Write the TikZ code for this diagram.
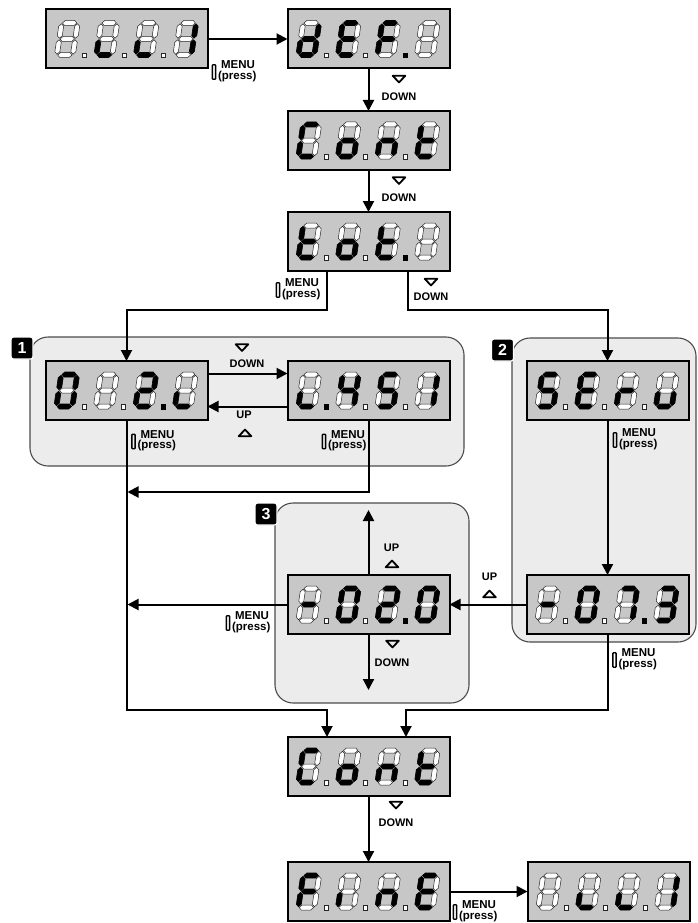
\documentclass[tikz,border=0pt]{standalone}
\usepackage{fontspec}
\setmainfont{Liberation Sans}
\usetikzlibrary{arrows.meta}
\definecolor{panelfill}{RGB}{236,236,236}
\definecolor{dispfill}{RGB}{199,199,199}
\makeatletter
\newcommand\segpiece[3]{\in@{#1}{#2}\ifin@\filldraw[litseg] #3 -- cycle;\else\filldraw[offseg] #3 -- cycle;\fi}
\newcommand\segdot[3]{\in@{#2}{#3}\ifin@\filldraw[litseg] (#1-2.2,43.6) rectangle (#1+2.2,48);\else\filldraw[offseg] (#1-2.2,43.6) rectangle (#1+2.2,48);\fi}
\makeatother
\newcommand\sevdigit[3]{%
  \begin{scope}[shift={(#1,#2)},yscale=-1,xslant=-0.15]
  \segpiece{a}{#3}{(3.3,34.5)--(5.8,37)--(15.2,37)--(17.7,34.5)--(15.2,32)--(5.8,32)}%
  \segpiece{b}{#3}{(18.5,19.3)--(21,21.8)--(21,31.2)--(18.5,33.7)--(16,31.2)--(16,21.8)}%
  \segpiece{c}{#3}{(18.5,3.3)--(21,5.8)--(21,15.2)--(18.5,17.7)--(16,15.2)--(16,5.8)}%
  \segpiece{d}{#3}{(3.3,2.5)--(5.8,5)--(15.2,5)--(17.7,2.5)--(15.2,0)--(5.8,0)}%
  \segpiece{e}{#3}{(2.5,3.3)--(5,5.8)--(5,15.2)--(2.5,17.7)--(0,15.2)--(0,5.8)}%
  \segpiece{f}{#3}{(2.5,19.3)--(5,21.8)--(5,31.2)--(2.5,33.7)--(0,31.2)--(0,21.8)}%
  \segpiece{g}{#3}{(3.3,18.5)--(5.8,21)--(15.2,21)--(17.7,18.5)--(15.2,16)--(5.8,16)}%
  \end{scope}}
\newcommand\sevdisp[7]{%
  \node[disp] (#1) at #2 {};
  \begin{scope}[shift={(#1.north west)}]
   \sevdigit{8}{48}{#3}\sevdigit{47.5}{48}{#4}\sevdigit{87}{48}{#5}\sevdigit{126.5}{48}{#6}
   \segdot{38.5}{1}{#7}\segdot{78}{2}{#7}\segdot{117.5}{3}{#7}
  \end{scope}}
\newcommand\menulbl[2]{\node[btn] (#1i) at #2 {};\node[mtext] (#1) at ([xshift=1.5pt,yshift=1pt]#1i.east) {\hspace*{3pt}MENU\\(press)};}
\begin{document}
\begin{tikzpicture}[x=1pt,y=-1pt,
  disp/.style={draw,line width=2pt,fill=dispfill,minimum width=162pt,minimum height=59pt,inner sep=0pt,outer sep=0pt},
  panel/.style={draw=black!70,line width=1.1pt,fill=panelfill,rounded corners=18pt,inner sep=0pt,outer sep=0pt,anchor=north west},
  badge/.style={fill=black,draw=white,line width=1.2pt,text=white,font=\bfseries\fontsize{16}{16}\selectfont,minimum width=22pt,minimum height=22pt,inner sep=0pt,rounded corners=2.5pt},
  conn/.style={draw,line width=2pt,-{Triangle[length=11pt,width=11pt]}},
  litseg/.style={fill=black,draw=black,line width=0.6pt},
  offseg/.style={fill=white,draw=black!85,line width=0.5pt},
  btn/.style={draw,line width=1.4pt,rounded corners=0.8pt,minimum width=3.3pt,minimum height=14.5pt,inner sep=0pt},
  mtext/.style={font=\bfseries\fontsize{11.5}{10.5}\selectfont,inner sep=0pt,align=left,anchor=west},
  lbl/.style={font=\bfseries\fontsize{11}{12}\selectfont,inner sep=0pt},
  tri/.style={draw,line width=1.8pt,line join=round},
  tridown/.pic={\draw[tri] (-6.3,-3.2) -- (6.3,-3.2) -- (0,3.4) -- cycle;},
  triup/.pic={\draw[tri] (-6.3,3.2) -- (6.3,3.2) -- (0,-3.4) -- cycle;}]
\useasboundingbox (0,0) rectangle (697,923);
\fill[white] (0,0) rectangle (697,923);
% panels
\node[panel,minimum width=434pt,minimum height=129pt] (pan1) at (30,337) {};
\node[panel,minimum width=184pt,minimum height=304pt] (pan2) at (512,338) {};
\node[panel,minimum width=194pt,minimum height=200pt] (pan3) at (275,503) {};
% displays
\sevdisp{d0}{(127,39)}{}{ed}{ed}{bc}{}
\sevdisp{def}{(368.5,39)}{bcdeg}{adefg}{aefg}{}{3}
\sevdisp{cont}{(368.5,140.5)}{adef}{cdeg}{ceg}{defg}{}
\sevdisp{tot}{(368.5,241.5)}{defg}{cdeg}{defg}{}{3}
\sevdisp{pa}{(126.5,390.5)}{abcdef}{}{abdeg}{de}{3}
\sevdisp{pb}{(368.5,390.5)}{de}{bcfg}{acdfg}{bc}{1}
\sevdisp{serv}{(607.5,390.5)}{acdfg}{adefg}{eg}{cde}{}
\sevdisp{sval}{(607.5,604.5)}{g}{abcdef}{abc}{abcdg}{3}
\sevdisp{pc}{(368.5,604.5)}{g}{abcdef}{abdeg}{abcdef}{3}
\sevdisp{cont2}{(368.5,766.5)}{adef}{cdeg}{ceg}{defg}{}
\sevdisp{fine}{(368.5,891.5)}{aefg}{e}{ceg}{adefg}{}
\sevdisp{last}{(608.5,891.5)}{}{ed}{ed}{bc}{}
% junction points
\coordinate (ta) at (327,310);
\coordinate (tb) at (408,310);
\coordinate (mj) at (126.5,492);
\coordinate (jl) at (126.5,710);
\coordinate (jr) at (607.5,710);
\coordinate (u3) at (368.5,510);
\coordinate (w3) at (368.5,690);
% connectors
\draw[conn] (d0) -- (def);
\draw[conn] (def) -- (cont);
\draw[conn] (cont) -- (tot);
\draw[conn] (tot.south -| ta) -- (ta) -| (pa.north);
\draw[conn] (tot.south -| tb) -- (tb) -| (serv.north);
\draw[conn] ([yshift=17pt]pa.east) -- ([yshift=17pt]pb.west);
\draw[conn] ([yshift=-16pt]pb.west) -- ([yshift=-16pt]pa.east);
\draw[conn] (pa.south) -- (jl) -| ([xshift=-41.5pt]cont2.north);
\draw[conn,shorten >=1pt] (pb.south) |- (mj);
\draw[conn] (serv) -- (sval);
\draw[conn] (sval) -- (pc);
\draw[conn,shorten >=1pt] (pc.west) -- (pc.west -| mj);
\draw[conn] (pc.north) -- (u3);
\draw[conn] (pc.south) -- (w3);
\draw[conn] (sval.south) -- (jr) -| ([xshift=37.5pt]cont2.north);
\draw[conn] (cont2) -- (fine);
\draw[conn] (fine) -- (last);
% MENU labels
\menulbl{ml0}{(214,72)}
\menulbl{mlt}{(278,290)}
\menulbl{mla}{(133.5,441.5)}
\menulbl{mlb}{(324,441.5)}
\menulbl{mls}{(615,440)}
\menulbl{mlv}{(614.5,660)}
\menulbl{mlc}{(228,623)}
\menulbl{mlf}{(455,912)}
% DOWN / UP labels
\pic at (399,79) {tridown};
\node[lbl] (dn1) at (399,97) {DOWN};
\pic at (399,180.5) {tridown};
\node[lbl] (dn2) at (399,198) {DOWN};
\pic at (431,282) {tridown};
\node[lbl] (dn3) at (431,296.5) {DOWN};
\pic at (242,347.5) {tridown};
\node[lbl] (dn4) at (247,363.5) {DOWN};
\node[lbl] (up1) at (244,415) {UP};
\pic at (245,433) {triup};
\node[lbl] (up2) at (391.5,547.5) {UP};
\pic at (392,564) {triup};
\pic at (392.5,644) {tridown};
\node[lbl] (dn5) at (392,662.5) {DOWN};
\node[lbl] (up3) at (489.5,577) {UP};
\pic at (489.5,594) {triup};
\pic at (396,805) {tridown};
\node[lbl] (dn6) at (396,823) {DOWN};
% badges
\node[badge] (b1) at (22,348) {1};
\node[badge] (b2) at (502.5,350) {2};
\node[badge] (b3) at (266,514) {3};
\end{tikzpicture}
\end{document}
